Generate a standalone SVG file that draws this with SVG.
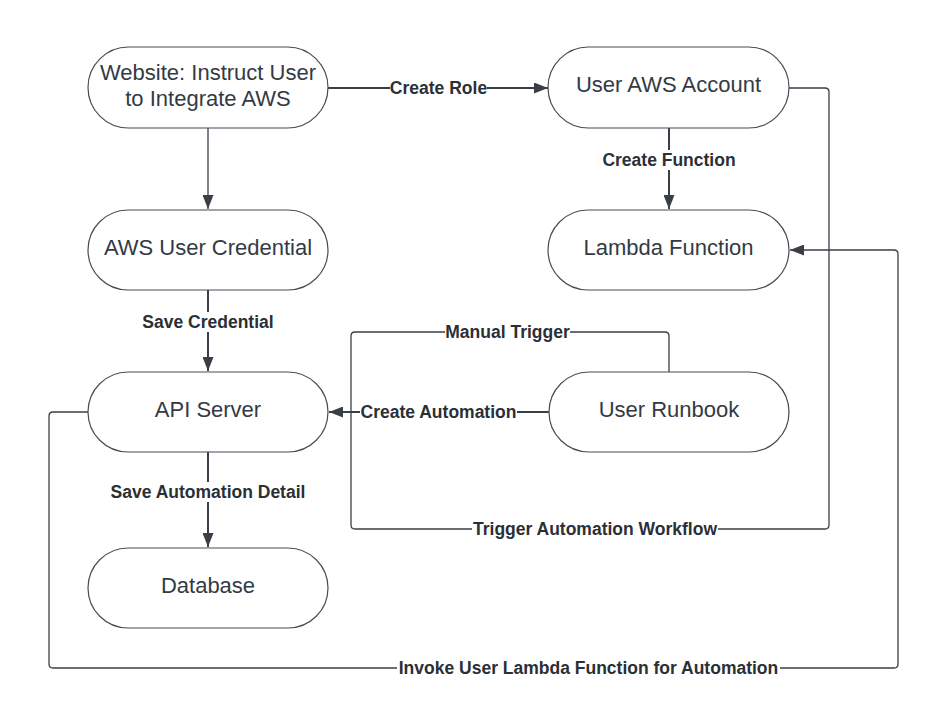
<svg xmlns="http://www.w3.org/2000/svg" width="941" height="722" viewBox="0 0 941 722">
<style>
.node{fill:#ffffff;stroke:#474c54;stroke-width:1.2}
.nt{font-family:"Liberation Sans",Arial,sans-serif;font-size:22px;fill:#333a44;text-anchor:middle}
.edge{fill:none;stroke:#3a3f47;stroke-width:1.3;stroke-linejoin:round}
.thick{stroke-width:2}
.lb{font-family:"Liberation Sans",Arial,sans-serif;font-size:17.5px;font-weight:bold;fill:#2b2f36;text-anchor:middle}
.lbg{fill:#ffffff}
</style>
<defs>
<marker id="arr" viewBox="0 0 14 11" refX="14" refY="5.5" markerWidth="14" markerHeight="11" markerUnits="userSpaceOnUse" orient="auto">
<path d="M0,0 L14,5.5 L0,11 Z" fill="#3a3f47"/>
</marker>
</defs>
<rect width="941" height="722" fill="#ffffff"/>
<g id="connectors">
<path class="edge thick" d="M328,88 H548" marker-end="url(#arr)"/>
<path class="edge" d="M208,128 V209" marker-end="url(#arr)"/>
<path class="edge thick" d="M669,128 V209" marker-end="url(#arr)"/>
<path class="edge thick" d="M208,290 V371" marker-end="url(#arr)"/>
<path class="edge thick" d="M208,452 V547" marker-end="url(#arr)"/>
<path class="edge thick" d="M549,412 H329" marker-end="url(#arr)"/>
<path class="edge" d="M669,372 V336 Q669,332 665,332 H355 Q351,332 351,336 V412"/>
<path class="edge" d="M789,88 H825 Q829,88 829,92 V525 Q829,529 825,529 H355 Q351,529 351,525 V412"/>
<path class="edge" d="M88,412 H53 Q49,412 49,416 V664 Q49,668 53,668 H894 Q898,668 898,664 V254 Q898,250 894,250 H790" marker-end="url(#arr)"/>
<rect class="lbg" x="390" y="78" width="97" height="20"/>
<text class="lb" x="438.5" y="94">Create Role</text>
<rect class="lbg" x="601" y="150" width="136" height="20"/>
<text class="lb" x="669" y="166">Create Function</text>
<rect class="lbg" x="140" y="312" width="136" height="20"/>
<text class="lb" x="208" y="328">Save Credential</text>
<rect class="lbg" x="108" y="482" width="200" height="20"/>
<text class="lb" x="208" y="498">Save Automation Detail</text>
<rect class="lbg" x="445" y="322" width="125" height="20"/>
<text class="lb" x="507.5" y="338">Manual Trigger</text>
<rect class="lbg" x="360" y="402" width="157" height="20"/>
<text class="lb" x="438.5" y="418">Create Automation</text>
<rect class="lbg" x="472" y="519" width="246" height="20"/>
<text class="lb" x="595" y="535">Trigger Automation Workflow</text>
<rect class="lbg" x="397" y="658" width="383" height="20"/>
<text class="lb" x="588.5" y="674">Invoke User Lambda Function for Automation</text>
</g>
<g id="website">
<rect class="node" x="88" y="47" width="240" height="81" rx="40.5"/>
<text class="nt" x="208" y="80">Website: Instruct User</text>
<text class="nt" x="208" y="106">to Integrate AWS</text>
</g>
<g id="aws-user-credential">
<rect class="node" x="88" y="210" width="240" height="80" rx="40"/>
<text class="nt" x="208" y="255">AWS User Credential</text>
</g>
<g id="api-server">
<rect class="node" x="88" y="372" width="240" height="80" rx="40"/>
<text class="nt" x="208" y="417">API Server</text>
</g>
<g id="database">
<rect class="node" x="88" y="548" width="240" height="80" rx="40"/>
<text class="nt" x="208" y="593">Database</text>
</g>
<g id="user-aws-account">
<rect class="node" x="548" y="47" width="241" height="81" rx="40.5"/>
<text class="nt" x="668.5" y="92">User AWS Account</text>
</g>
<g id="lambda-function">
<rect class="node" x="548" y="210" width="241" height="80" rx="40"/>
<text class="nt" x="668.5" y="255">Lambda Function</text>
</g>
<g id="user-runbook">
<rect class="node" x="549" y="372" width="240" height="80" rx="40"/>
<text class="nt" x="669" y="417">User Runbook</text>
</g>
</svg>
